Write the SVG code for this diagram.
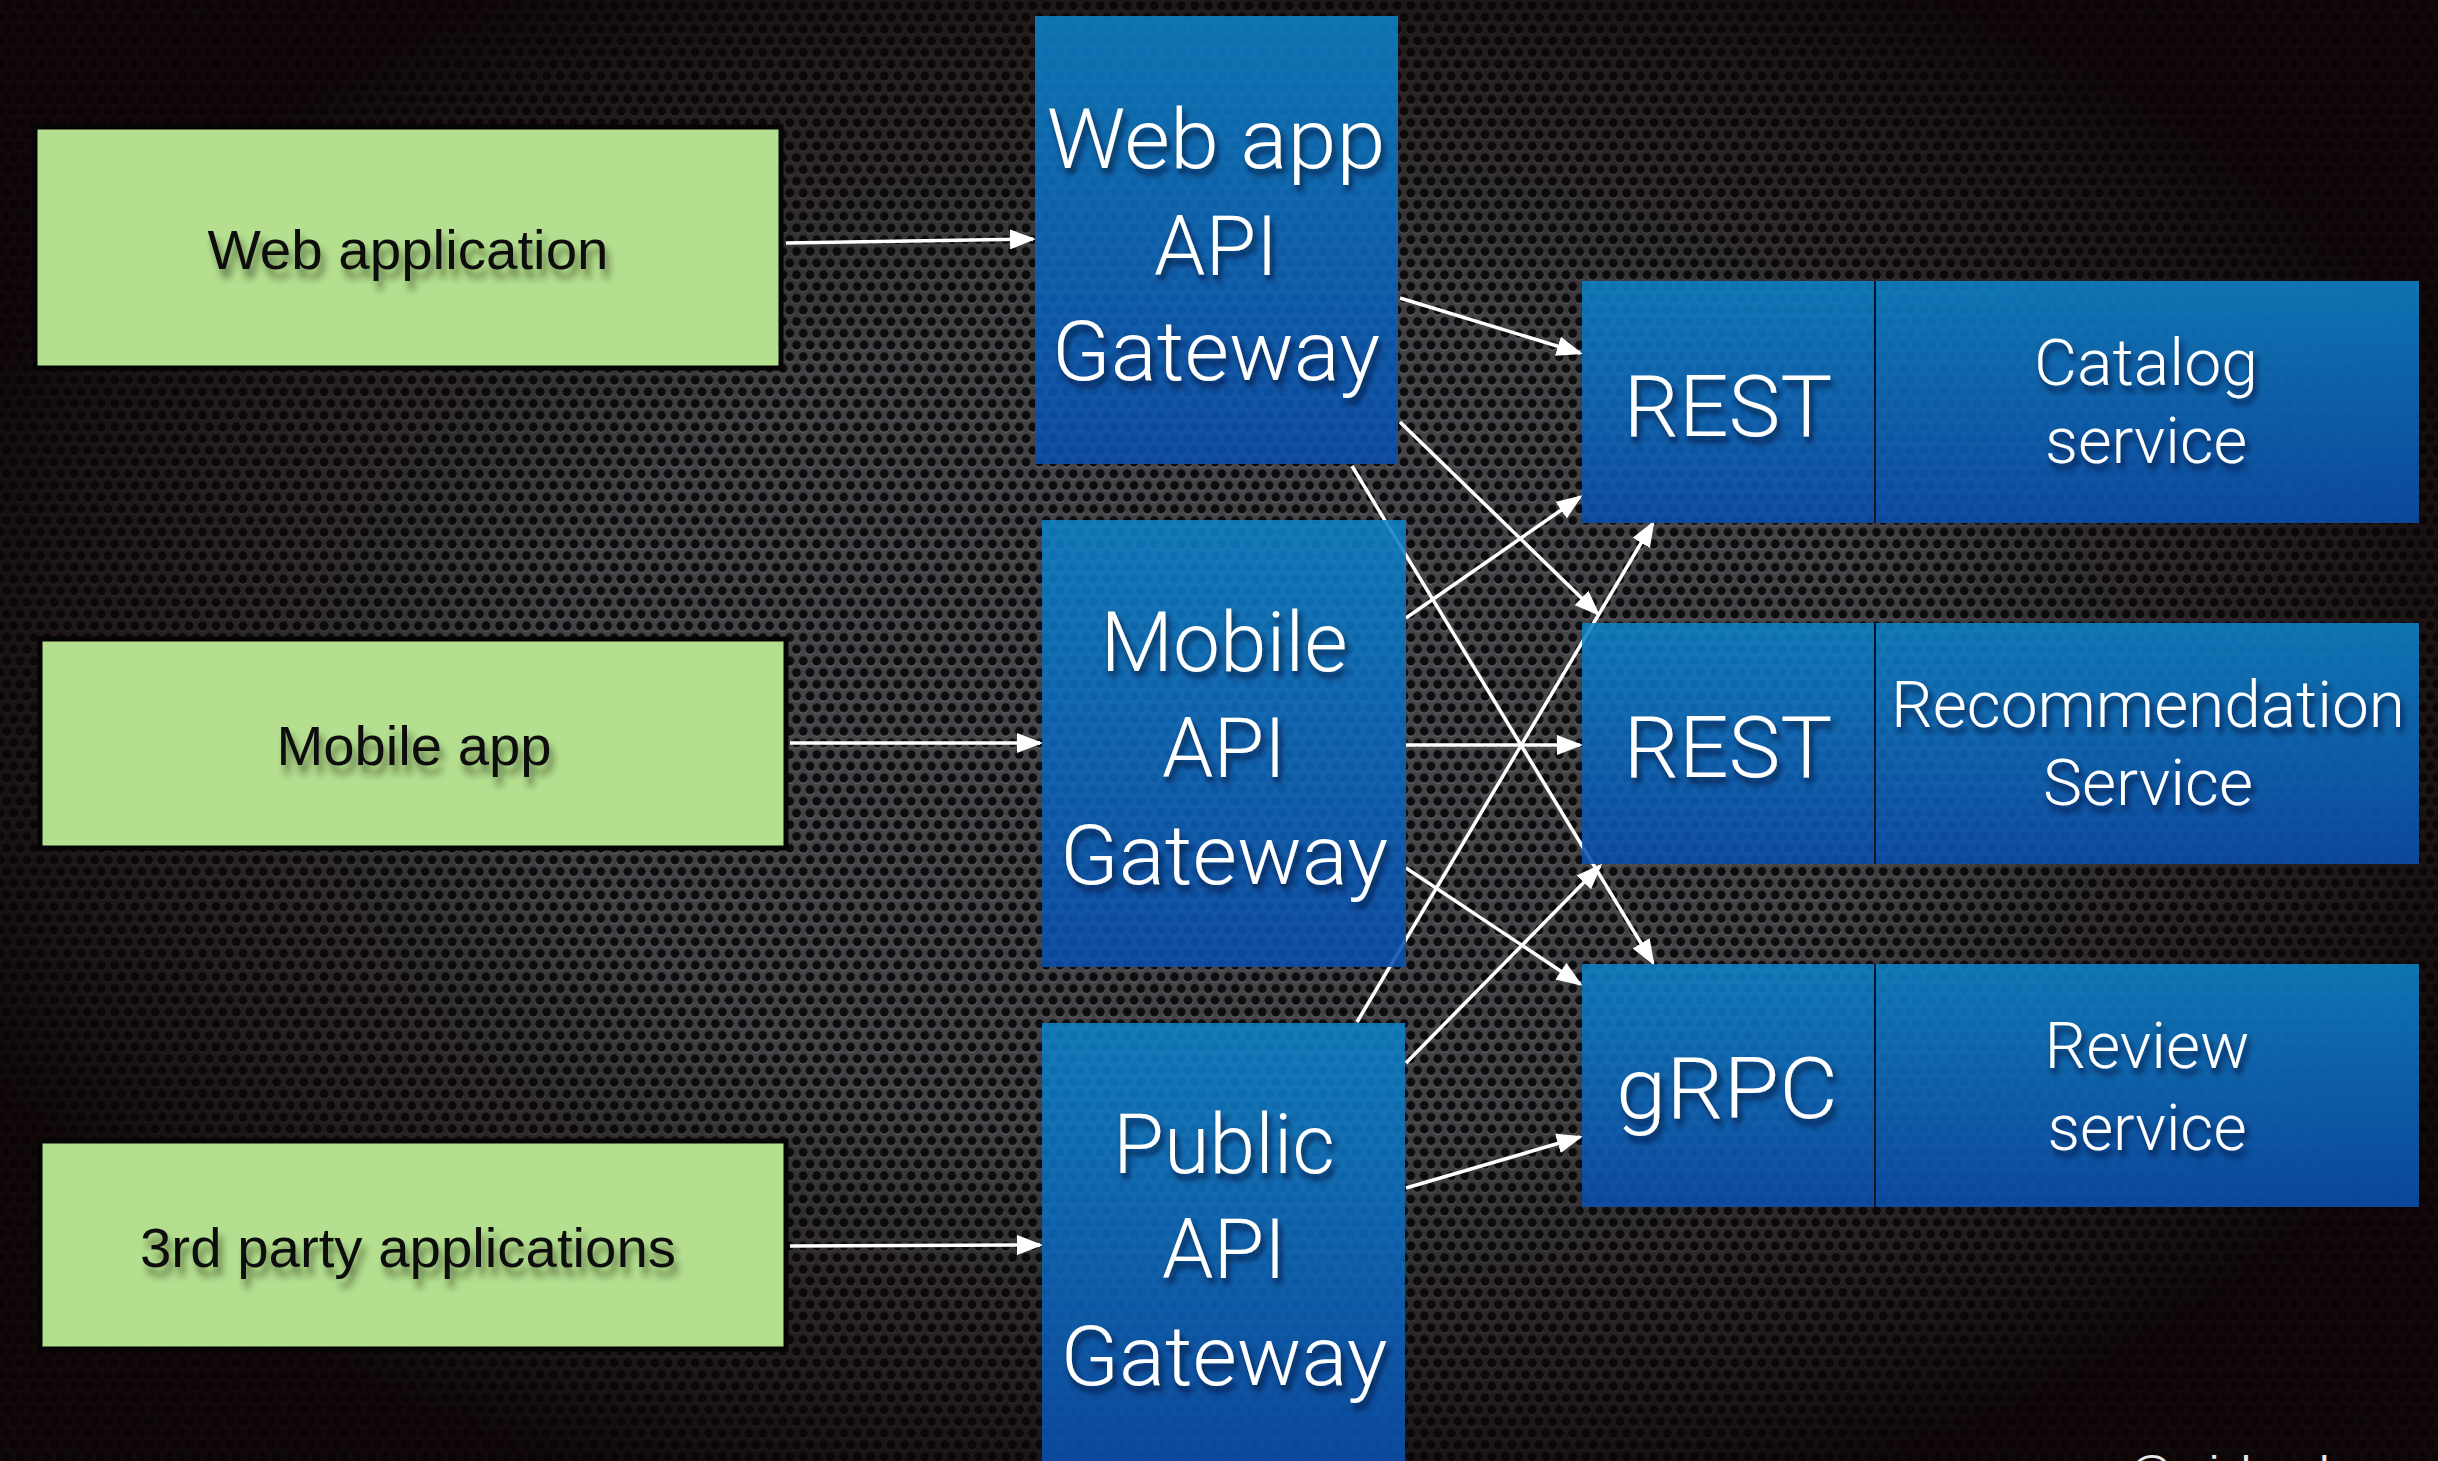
<svg xmlns="http://www.w3.org/2000/svg" width="2438" height="1461" viewBox="0 0 2438 1461">
  <defs>
    <!-- perforated metal backdrop -->
    <pattern id="mesh" width="13.5" height="23.4" patternUnits="userSpaceOnUse">
      <rect width="13.5" height="23.4" fill="#47474a"/>
      <g fill="#6a6a70">
        <circle cx="6.75" cy="6.9" r="4.8"/>
        <circle cx="0" cy="18.6" r="4.8"/>
        <circle cx="13.5" cy="18.6" r="4.8"/>
      </g>
      <g fill="#0c0c0e">
        <circle cx="6.75" cy="5.85" r="4.6"/>
        <circle cx="0" cy="17.55" r="4.6"/>
        <circle cx="13.5" cy="17.55" r="4.6"/>
      </g>
    </pattern>
    <radialGradient id="vignette" gradientUnits="userSpaceOnUse" cx="1220" cy="720" r="1350"
                    gradientTransform="translate(1220 720) scale(1 0.63) translate(-1220 -720)">
      <stop offset="0" stop-color="#0c0404" stop-opacity="0"/>
      <stop offset="0.5" stop-color="#0c0404" stop-opacity="0.08"/>
      <stop offset="0.82" stop-color="#0c0404" stop-opacity="0.65"/>
      <stop offset="1" stop-color="#0c0404" stop-opacity="0.93"/>
    </radialGradient>
    <linearGradient id="blue" x1="0" y1="0" x2="0" y2="1">
      <stop offset="0" stop-color="#0e82c8"/>
      <stop offset="1" stop-color="#0a4fae"/>
    </linearGradient>
    <filter id="shadowLight" x="-10%" y="-20%" width="130%" height="160%">
      <feDropShadow dx="3" dy="6" stdDeviation="3" flood-color="#001028" flood-opacity="0.75"/>
    </filter>
    <filter id="shadowDark" x="-10%" y="-20%" width="130%" height="170%">
      <feDropShadow dx="4" dy="9" stdDeviation="3.5" flood-color="#1c2a10" flood-opacity="0.55"/>
    </filter>
    <marker id="head" viewBox="0 0 26 20" markerUnits="userSpaceOnUse" markerWidth="26" markerHeight="20"
            refX="23" refY="10" orient="auto">
      <path d="M0,0 L26,10 L0,20 Z" fill="#ffffff"/>
    </marker>
    <style>
      .client rect { fill: #b3df8f; stroke: #050505; stroke-width: 5; }
      .client text { font-family: "Liberation Sans", Arial, sans-serif; font-size: 56px; fill: #0d0d0d; text-anchor: middle; filter: url(#shadowDark); }
      .gw rect, .svc rect { fill: url(#blue); fill-opacity: 0.88; }
      .gw text, .svc text { font-family: Roboto, "Liberation Sans", Arial, sans-serif; font-weight: 300; fill: #ffffff; text-anchor: middle; filter: url(#shadowLight); }
      .gw text { font-size: 83px; }
      .svc .proto { font-size: 85px; }
      .svc .name { font-size: 65px; }
      .svc line { stroke: #0a1526; stroke-width: 2; }
      #connectors path { fill: none; stroke: #ffffff; stroke-width: 3.5; marker-end: url(#head); }
      .footer { font-family: "Liberation Sans", Arial, sans-serif; font-size: 44px; fill: #e8e8e8; }
    </style>
  </defs>

  <!-- backdrop -->
  <rect width="2438" height="1461" fill="url(#mesh)"/>
  <rect width="2438" height="1461" fill="url(#vignette)"/>

  <!-- connectors -->
  <g id="connectors">
    <path d="M786,243 L1033,239"/>
    <path d="M790,743 L1040,743"/>
    <path d="M790,1246 L1040,1245"/>
    <path d="M1400,298 L1580,353"/>
    <path d="M1400,422 L1598,614"/>
    <path d="M1352,466 L1653,963"/>
    <path d="M1406,618 L1580,497"/>
    <path d="M1406,745 L1580,745"/>
    <path d="M1406,868 L1580,984"/>
    <path d="M1357,1022 L1653,523"/>
    <path d="M1406,1063 L1600,866"/>
    <path d="M1406,1188 L1580,1137"/>
  </g>

  <!-- clients -->
  <g id="web-application" class="client">
    <rect x="35" y="127" width="746" height="241"/>
    <text x="408" y="269" textLength="401" lengthAdjust="spacingAndGlyphs">Web application</text>
  </g>
  <g id="mobile-app" class="client">
    <rect x="40" y="639" width="746" height="209"/>
    <text x="414" y="765" textLength="275" lengthAdjust="spacingAndGlyphs">Mobile app</text>
  </g>
  <g id="third-party-applications" class="client">
    <rect x="40" y="1141" width="746" height="208"/>
    <text x="408" y="1267" textLength="536" lengthAdjust="spacingAndGlyphs">3rd party applications</text>
  </g>

  <!-- API gateways -->
  <g id="web-app-api-gateway" class="gw">
    <rect x="1035" y="16" width="363" height="448"/>
    <text x="1216" y="168" textLength="339" lengthAdjust="spacingAndGlyphs">Web app</text>
    <text x="1216" y="275" textLength="124" lengthAdjust="spacingAndGlyphs">API</text>
    <text x="1216" y="380" textLength="328" lengthAdjust="spacingAndGlyphs">Gateway</text>
  </g>
  <g id="mobile-api-gateway" class="gw">
    <rect x="1042" y="520" width="364" height="447"/>
    <text x="1224" y="671" textLength="247" lengthAdjust="spacingAndGlyphs">Mobile</text>
    <text x="1224" y="777" textLength="124" lengthAdjust="spacingAndGlyphs">API</text>
    <text x="1224" y="884" textLength="328" lengthAdjust="spacingAndGlyphs">Gateway</text>
  </g>
  <g id="public-api-gateway" class="gw">
    <rect x="1042" y="1023" width="363" height="450"/>
    <text x="1224" y="1173" textLength="222" lengthAdjust="spacingAndGlyphs">Public</text>
    <text x="1224" y="1278" textLength="124" lengthAdjust="spacingAndGlyphs">API</text>
    <text x="1224" y="1385" textLength="327" lengthAdjust="spacingAndGlyphs">Gateway</text>
  </g>

  <!-- backend services -->
  <g id="catalog-service" class="svc">
    <rect x="1582" y="281" width="292" height="242"/>
    <rect x="1876" y="281" width="543" height="242"/>
    <line x1="1875" y1="281" x2="1875" y2="523"/>
    <text class="proto" x="1728" y="436" textLength="209" lengthAdjust="spacingAndGlyphs">REST</text>
    <text class="name" x="2146" y="385" textLength="224" lengthAdjust="spacingAndGlyphs">Catalog</text>
    <text class="name" x="2146" y="463" textLength="202" lengthAdjust="spacingAndGlyphs">service</text>
  </g>
  <g id="recommendation-service" class="svc">
    <rect x="1582" y="623" width="292" height="241"/>
    <rect x="1876" y="623" width="543" height="241"/>
    <line x1="1875" y1="623" x2="1875" y2="864"/>
    <text class="proto" x="1728" y="777" textLength="209" lengthAdjust="spacingAndGlyphs">REST</text>
    <text class="name" x="2148" y="727" textLength="514" lengthAdjust="spacingAndGlyphs">Recommendation</text>
    <text class="name" x="2148" y="805" textLength="210" lengthAdjust="spacingAndGlyphs">Service</text>
  </g>
  <g id="review-service" class="svc">
    <rect x="1582" y="964" width="292" height="243"/>
    <rect x="1876" y="964" width="543" height="243"/>
    <line x1="1875" y1="964" x2="1875" y2="1207"/>
    <text class="proto" x="1727" y="1118" textLength="222" lengthAdjust="spacingAndGlyphs">gRPC</text>
    <text class="name" x="2147" y="1068" textLength="205" lengthAdjust="spacingAndGlyphs">Review</text>
    <text class="name" x="2147" y="1150" textLength="199" lengthAdjust="spacingAndGlyphs">service</text>
  </g>

  <!-- footer credit, running off the bottom edge -->
  <text class="footer" x="2128" y="1487">@crichardson</text>
</svg>
